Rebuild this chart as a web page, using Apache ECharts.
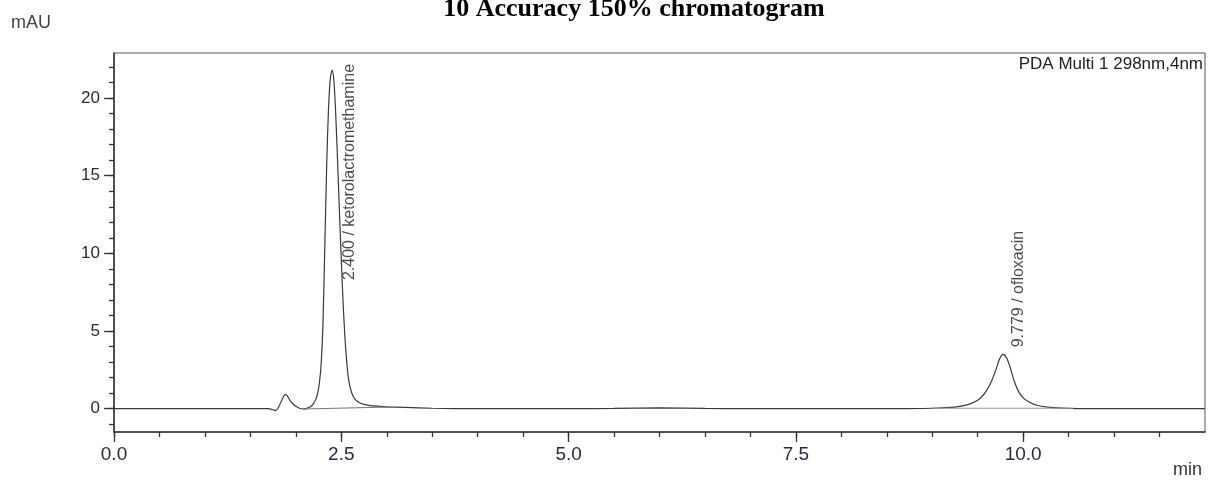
<!DOCTYPE html>
<html>
<head>
<meta charset="utf-8">
<script src="https://cdn.jsdelivr.net/npm/echarts@6/dist/echarts.min.js"></script>
<style>
html,body{margin:0;padding:0;background:#fff;}
#chart{width:1208px;height:480px;}
</style>
</head>
<body>
<div id="chart"></div>
<script>
// ---- data ----
const chartTitle = '10 Accuracy 150% chromatogram';
const yUnit = 'mAU';
const xUnit = 'min';
const detectorText = 'PDA Multi 1 298nm,4nm';

const signalTime = [0, 1.0, 1.70, 1.74, 1.78, 1.81, 1.84, 1.87, 1.89, 1.91,
  1.94, 1.97, 2.00, 2.04, 2.08, 2.12, 2.16, 2.19, 2.22, 2.24,
  2.26, 2.28, 2.30, 2.32, 2.34, 2.36, 2.38, 2.40, 2.42, 2.44,
  2.46, 2.48, 2.50, 2.52, 2.54, 2.56, 2.58, 2.60, 2.63, 2.66,
  2.70, 2.75, 2.80, 2.90, 3.00, 3.20, 3.50, 4.00, 5.00, 5.50,
  6.00, 6.50, 7.00, 8.00, 8.60, 9.00, 9.20, 9.30, 9.40, 9.50,
  9.55, 9.60, 9.65, 9.70, 9.74, 9.78, 9.82, 9.86, 9.90, 9.95,
  10.00, 10.06, 10.15, 10.30, 10.50, 10.70, 11.00, 12.00];
const signalValue = [0, 0, 0, -0.05, -0.12, 0.1, 0.47, 0.85, 0.9, 0.8,
  0.5, 0.3, 0.15, 0.03, -0.02, 0.02, 0.12, 0.3, 0.6, 1.0,
  1.7, 3.0, 5.8, 10.8, 15.8, 19.4, 21.3, 21.8, 21.0, 18.8,
  15.8, 12.6, 9.6, 6.8, 4.6, 3.0, 1.9, 1.3, 0.8, 0.55,
  0.38, 0.28, 0.22, 0.16, 0.12, 0.08, 0.03, 0.0, 0.0, 0.02,
  0.05, 0.02, 0.0, 0.0, 0.0, 0.03, 0.08, 0.15, 0.28, 0.55,
  0.8, 1.2, 1.75, 2.5, 3.2, 3.5, 3.25, 2.6, 1.8, 1.1,
  0.7, 0.45, 0.22, 0.08, 0.02, 0.0, 0.0, 0.0];

// integration baselines under the two peaks
const baseline1Time = [2.08, 3.05];
const baseline1Value = [-0.02, 0.11];
const baseline2Time = [9.0, 10.55];
const baseline2Value = [0.03, 0.03];

// peak annotations
const peakTimes = [2.400, 9.779];
const peakHeights = [21.8, 3.5];
const peakNames = ['ketorolactromethamine', 'ofloxacin'];

// axis ticks
const xMajorTicks = [0, 2.5, 5, 7.5, 10];
const xMinorTicks = [0, 0.5, 1, 1.5, 2, 2.5, 3, 3.5, 4, 4.5, 5, 5.5, 6, 6.5, 7, 7.5, 8, 8.5, 9, 9.5, 10, 10.5, 11, 11.5];
const yMajorTicks = [0, 5, 10, 15, 20];
const yMinorTicks = [-1, 0, 1, 2, 3, 4, 5, 6, 7, 8, 9, 10, 11, 12, 13, 14, 15, 16, 17, 18, 19, 20, 21, 22];

// ---- build option ----
const zip = (a, b) => a.map((v, i) => [v, b[i]]);
const labelOffsets = [[17, 210], [16, -7]];

const X_MIN = 0, X_MAX = 12, Y_MIN = -1.5, Y_MAX = 22.9;
const tickColor = '#2a2a40';

const chart = echarts.init(document.getElementById('chart'), null, {renderer: 'canvas'});
chart.setOption({
  animation: false,
  backgroundColor: '#fff',
  title: {
    text: chartTitle,
    left: 634, top: -4, textAlign: 'center', padding: 0,
    textStyle: {fontFamily: 'Liberation Serif', fontWeight: 'bold', fontSize: 26, color: '#000'}
  },
  grid: {left: 114, right: 3, top: 53, bottom: 48, show: true, borderColor: '#555', borderWidth: 1, containLabel: false},
  xAxis: [{
    type: 'value', min: X_MIN, max: X_MAX, position: 'bottom',
    axisLine: {show: true, onZero: false, lineStyle: {color: '#333', width: 1.5}},
    axisTick: {show: true, length: 10, customValues: xMajorTicks, lineStyle: {color: '#333', width: 1.3}},
    axisLabel: {show: true, customValues: xMajorTicks, margin: 13, color: tickColor,
      fontFamily: 'Liberation Sans', fontSize: 19, formatter: v => v.toFixed(1)},
    splitLine: {show: false}
  }, {
    type: 'value', min: X_MIN, max: X_MAX, position: 'bottom',
    axisLine: {show: false, onZero: false},
    axisTick: {show: true, length: 5, customValues: xMinorTicks, lineStyle: {color: '#333', width: 1.3}},
    axisLabel: {show: false},
    splitLine: {show: false}
  }],
  yAxis: [{
    type: 'value', min: Y_MIN, max: Y_MAX, position: 'left',
    axisLine: {show: true, onZero: false, lineStyle: {color: '#333', width: 1.5}},
    axisTick: {show: true, length: 10, customValues: yMajorTicks, lineStyle: {color: '#333', width: 1.3}},
    axisLabel: {show: true, customValues: yMajorTicks, margin: 14, color: tickColor,
      fontFamily: 'Liberation Sans', fontSize: 17},
    splitLine: {show: false}
  }, {
    type: 'value', min: Y_MIN, max: Y_MAX, position: 'left',
    axisLine: {show: false, onZero: false},
    axisTick: {show: true, length: 5, customValues: yMinorTicks, lineStyle: {color: '#333', width: 1.3}},
    axisLabel: {show: false},
    splitLine: {show: false}
  }],
  graphic: [
    {type: 'text', left: 11, top: 14, style: {text: yUnit, fontFamily: 'Liberation Sans', fontSize: 18, fill: '#444'}},
    {type: 'text', right: 6, top: 461, style: {text: xUnit, fontFamily: 'Liberation Sans', fontSize: 18, fill: '#333'}},
    {type: 'text', right: 5, top: 56, style: {text: detectorText, fontFamily: 'Liberation Sans', fontSize: 17, fill: '#222'}}
  ],
  series: [{
    type: 'line', name: 'signal', data: zip(signalTime, signalValue),
    showSymbol: false, smooth: 0.25, silent: true,
    lineStyle: {color: '#3a3a3a', width: 1.2}
  }, {
    type: 'line', name: 'baseline1', data: zip(baseline1Time, baseline1Value),
    showSymbol: false, silent: true, lineStyle: {color: '#777', width: 1}
  }, {
    type: 'line', name: 'baseline2', data: zip(baseline2Time, baseline2Value),
    showSymbol: false, silent: true, lineStyle: {color: '#999', width: 1}
  }, {
    type: 'scatter', name: 'peaks', symbolSize: 0, silent: true,
    data: peakTimes.map((t, i) => ({
      value: [t, peakHeights[i]],
      label: {
        show: true,
        formatter: t.toFixed(3) + ' / ' + peakNames[i],
        position: labelOffsets[i],
        rotate: 90, align: 'left', verticalAlign: 'middle',
        fontFamily: 'Liberation Sans', fontSize: 16, color: '#1a1a2a'
      }
    }))
  }]
});
</script>
</body>
</html>
